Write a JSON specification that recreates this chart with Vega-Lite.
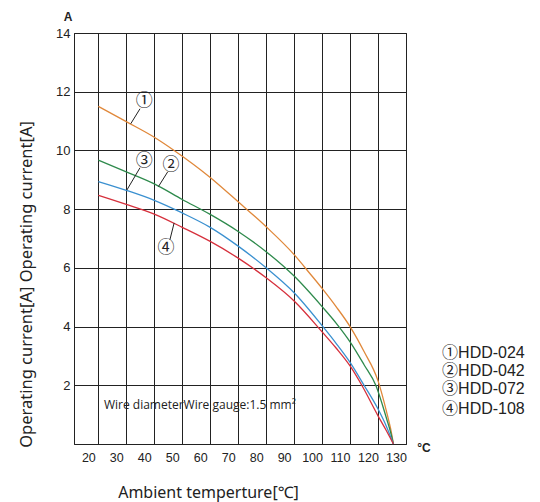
{
  "$schema": "https://vega.github.io/schema/vega-lite/v6.json",
  "width": 332,
  "height": 411,
  "autosize": {"type": "none"},
  "padding": {"left": 74, "top": 33, "right": 134, "bottom": 58},
  "background": "white",
  "config": {
    "view": {"stroke": "#222", "strokeWidth": 1},
    "axis": {"domainColor": "#222", "gridColor": "#222", "gridOpacity": 1, "ticks": false, "labelFlush": false}
  },
  "datasets": {
    "curves": [
      {"s": "1", "t": 20, "i": 11.5}, {"s": "1", "t": 30, "i": 10.98}, {"s": "1", "t": 40, "i": 10.45}, {"s": "1", "t": 47.1, "i": 10.0},
      {"s": "1", "t": 60, "i": 9.08}, {"s": "1", "t": 70, "i": 8.25}, {"s": "1", "t": 80, "i": 7.4}, {"s": "1", "t": 90, "i": 6.45},
      {"s": "1", "t": 95.7, "i": 5.8}, {"s": "1", "t": 100, "i": 5.3}, {"s": "1", "t": 105, "i": 4.68}, {"s": "1", "t": 110, "i": 4.0},
      {"s": "1", "t": 115, "i": 3.15}, {"s": "1", "t": 120, "i": 2.15}, {"s": "1", "t": 123.1, "i": 1.08}, {"s": "1", "t": 124.5, "i": 0.52},
      {"s": "1", "t": 125.5, "i": 0},
      {"s": "2", "t": 20, "i": 9.67}, {"s": "2", "t": 30, "i": 9.27}, {"s": "2", "t": 40, "i": 8.86}, {"s": "2", "t": 50, "i": 8.33},
      {"s": "2", "t": 60, "i": 7.82}, {"s": "2", "t": 70, "i": 7.24}, {"s": "2", "t": 80, "i": 6.55}, {"s": "2", "t": 90, "i": 5.72},
      {"s": "2", "t": 100, "i": 4.68}, {"s": "2", "t": 105, "i": 4.12}, {"s": "2", "t": 110, "i": 3.48},
      {"s": "2", "t": 115, "i": 2.7}, {"s": "2", "t": 119.2, "i": 2.0}, {"s": "2", "t": 123.1, "i": 0.85}, {"s": "2", "t": 124.5, "i": 0.4},
      {"s": "2", "t": 125.5, "i": 0},
      {"s": "3", "t": 20, "i": 8.94}, {"s": "3", "t": 30, "i": 8.64}, {"s": "3", "t": 40, "i": 8.3}, {"s": "3", "t": 50, "i": 7.87},
      {"s": "3", "t": 60, "i": 7.38}, {"s": "3", "t": 70, "i": 6.74}, {"s": "3", "t": 80, "i": 6.0}, {"s": "3", "t": 90, "i": 5.15},
      {"s": "3", "t": 100, "i": 4.03}, {"s": "3", "t": 105, "i": 3.43}, {"s": "3", "t": 110, "i": 2.78}, {"s": "3", "t": 115, "i": 2.0},
      {"s": "3", "t": 120, "i": 1.19}, {"s": "3", "t": 123, "i": 0.6}, {"s": "3", "t": 125.5, "i": 0},
      {"s": "4", "t": 20, "i": 8.47}, {"s": "4", "t": 30, "i": 8.16}, {"s": "4", "t": 40, "i": 7.83}, {"s": "4", "t": 50, "i": 7.38},
      {"s": "4", "t": 60, "i": 6.9}, {"s": "4", "t": 70, "i": 6.33}, {"s": "4", "t": 80, "i": 5.66}, {"s": "4", "t": 90, "i": 4.87},
      {"s": "4", "t": 100, "i": 3.82}, {"s": "4", "t": 105, "i": 3.27}, {"s": "4", "t": 110, "i": 2.66}, {"s": "4", "t": 114.2, "i": 2.0},
      {"s": "4", "t": 120, "i": 0.96}, {"s": "4", "t": 123, "i": 0.45}, {"s": "4", "t": 125.5, "i": 0}
    ],
    "leaders": [
      {"t": 34.9, "i": 11.42, "t2": 31.6, "i2": 10.91},
      {"t": 44.8, "i": 9.27, "t2": 41.5, "i2": 8.77},
      {"t": 34.9, "i": 9.41, "t2": 30.2, "i2": 8.65},
      {"t": 45.6, "i": 6.96, "t2": 47.1, "i2": 7.53}
    ],
    "marks": [
      {"t": 36.4, "i": 11.67, "label": "①"},
      {"t": 46.0, "i": 9.51, "label": "②"},
      {"t": 36.4, "i": 9.65, "label": "③"},
      {"t": 44.2, "i": 6.67, "label": "④"}
    ],
    "legendText": [
      {"t": 142.9, "i": 3.1, "label": "①HDD-024"},
      {"t": 142.9, "i": 2.49, "label": "②HDD-042"},
      {"t": 142.9, "i": 1.87, "label": "③HDD-072"},
      {"t": 142.9, "i": 1.19, "label": "④HDD-108"}
    ],
    "notes": [
      {"t": 22, "i": 1.33, "label": "Wire diameterWire gauge:1.5 mm²"}
    ],
    "units": [
      {"t": 9.2, "i": 14.55, "label": "A"},
      {"t": 136.4, "i": -0.14, "label": "°C"}
    ]
  },
  "encoding": {
    "x": {
      "field": "t", "type": "quantitative",
      "scale": {"domain": [11.3, 130], "nice": false, "zero": false},
      "axis": {
        "values": [20, 30, 40, 50, 60, 70, 80, 90, 100, 110, 120, 130],
        "grid": true,
        "labelFont": "Liberation Sans", "labelFontSize": 12.5, "labelColor": "#222", "labelPadding": 7, "labelOffset": -10,
        "title": "Ambient temperture[℃]",
        "titleFont": "Noto Sans", "titleFontSize": 16, "titleFontWeight": "normal", "titleColor": "#222",
        "titleX": 134, "titleY": 53, "titleAlign": "center", "titleBaseline": "alphabetic"
      }
    },
    "y": {
      "field": "i", "type": "quantitative",
      "scale": {"domain": [0, 14], "nice": false},
      "axis": {
        "values": [2, 4, 6, 8, 10, 12, 14],
        "grid": true,
        "labelFont": "Liberation Sans", "labelFontSize": 13, "labelColor": "#222", "labelPadding": 4,
        "title": "Operating current[A]  Operating current[A]",
        "titleFont": "Noto Sans", "titleFontSize": 16.5, "titleFontWeight": "normal", "titleColor": "#222",
        "titleX": -48, "titleY": 251, "titleAlign": "center", "titleBaseline": "middle", "titleAngle": 270
      }
    }
  },
  "layer": [
    {
      "data": {"name": "curves"},
      "mark": {"type": "line", "interpolate": "monotone", "strokeWidth": 1.3},
      "encoding": {
        "color": {"field": "s", "type": "nominal", "legend": null,
          "scale": {"domain": ["1", "2", "3", "4"], "range": ["#e0883a", "#2e8a4c", "#3a90d0", "#d6303c"]}}
      }
    },
    {
      "data": {"name": "leaders"},
      "mark": {"type": "rule", "color": "#222", "strokeWidth": 1},
      "encoding": {"x2": {"field": "t2"}, "y2": {"field": "i2"}}
    },
    {
      "data": {"name": "marks"},
      "mark": {"type": "text", "font": "Noto Sans CJK SC", "fontSize": 17, "color": "#222", "align": "center", "baseline": "middle"},
      "encoding": {"text": {"field": "label"}}
    },
    {
      "data": {"name": "legendText"},
      "mark": {"type": "text", "font": "Liberation Sans, 'Noto Sans CJK SC'", "fontSize": 16, "color": "#222", "align": "left", "baseline": "middle", "clip": false},
      "encoding": {"text": {"field": "label"}}
    },
    {
      "data": {"name": "notes"},
      "mark": {"type": "text", "font": "Open Sans", "fontSize": 12, "color": "#222", "align": "left", "baseline": "middle"},
      "encoding": {"text": {"field": "label"}}
    },
    {
      "data": {"name": "units"},
      "mark": {"type": "text", "font": "Liberation Sans", "fontSize": 12, "fontWeight": "bold", "color": "#222", "align": "center", "baseline": "middle"},
      "encoding": {"text": {"field": "label"}}
    }
  ]
}
